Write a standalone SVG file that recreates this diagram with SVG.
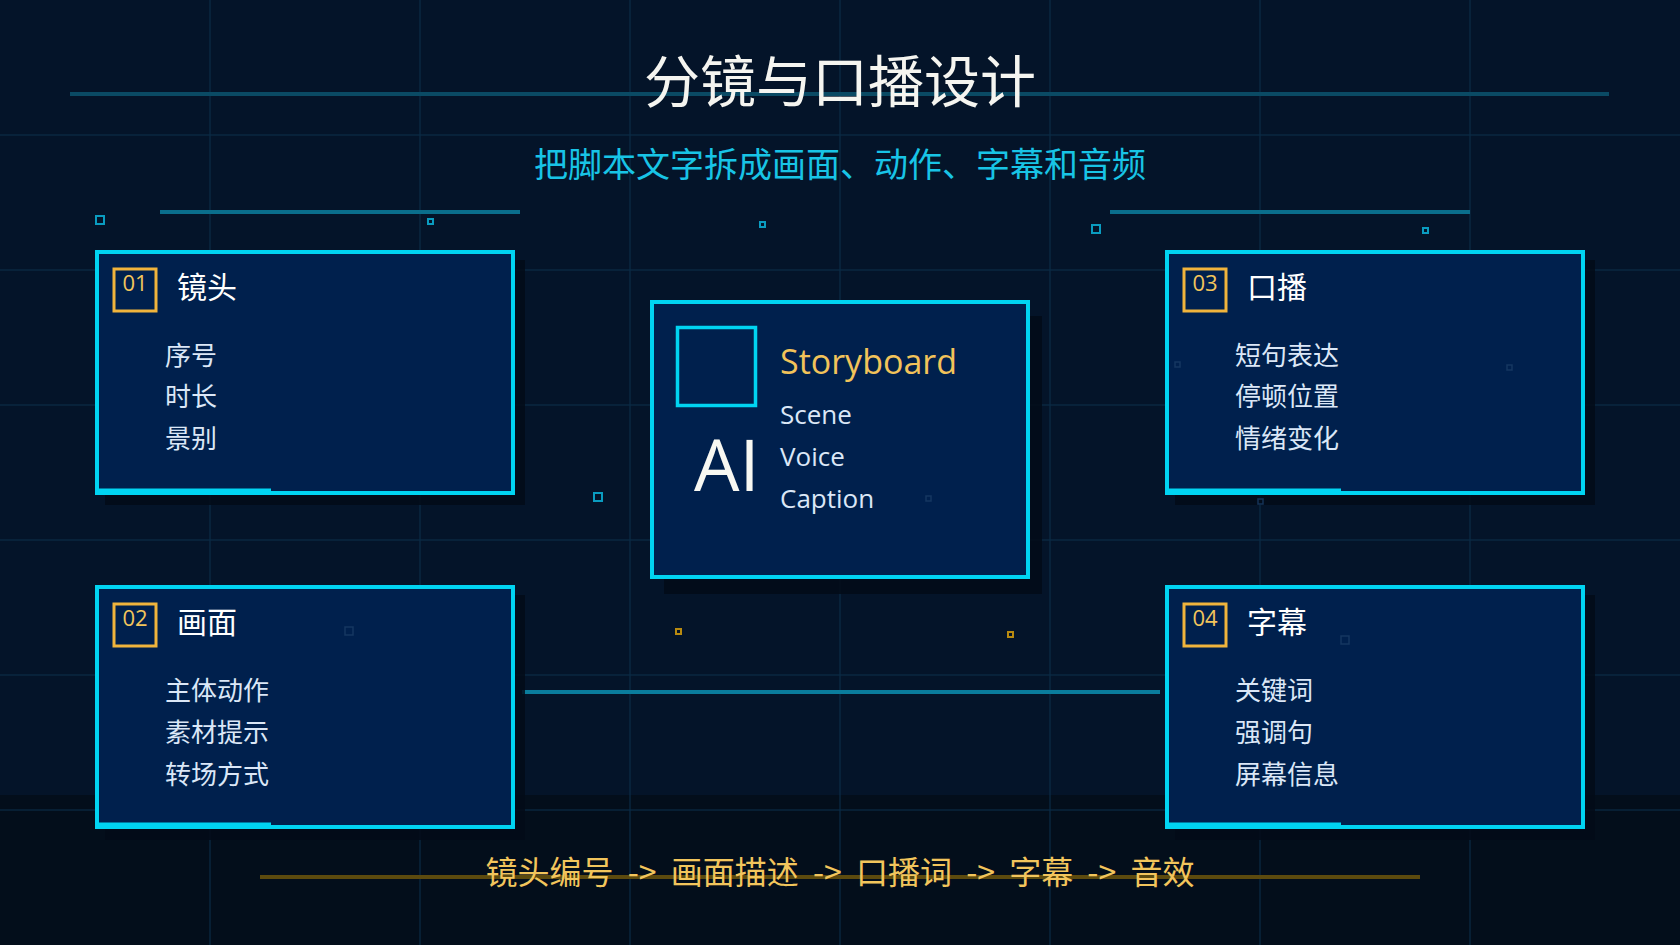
<svg xmlns="http://www.w3.org/2000/svg" width="1680" height="945" viewBox="0 0 1680 945">
<style>
.grid{stroke:#0b2d47;stroke-width:1.5;opacity:0.8}
.shadow{fill:#020b17;opacity:0.85}
.card{fill:#00204d;stroke:#00d4f2;stroke-width:4}
.accent{stroke:#00d4f2;stroke-width:3}
.badge{fill:none;stroke:#f0b43c;stroke-width:3}
.num{font-family:"Open Sans","Noto Sans",sans-serif;font-size:22px;fill:#f2c55c;text-anchor:middle}
.ttl{font-family:"Noto Sans CJK SC","Noto Sans",sans-serif;font-size:30px;fill:#ffffff}
.item{font-family:"Noto Sans CJK SC","Noto Sans",sans-serif;font-size:26px;fill:#dbe7f7}
.en{font-family:"Open Sans","Noto Sans",sans-serif;font-size:26px;fill:#dbe7f7}
.dot{fill:none;stroke:#0a9cc0;stroke-width:2}
.dotf{fill:none;stroke:#1a3d66;stroke-width:1.5;opacity:0.8}
.doto{fill:none;stroke:#b88a10;stroke-width:2}
</style>
<rect x="0" y="0" width="1680" height="945" fill="#041429"/>
<rect x="0" y="795" width="1680" height="150" fill="#030e1b"/>
<g id="grid">
<line class="grid" x1="210" y1="0" x2="210" y2="945"/>
<line class="grid" x1="420" y1="0" x2="420" y2="945"/>
<line class="grid" x1="630" y1="0" x2="630" y2="945"/>
<line class="grid" x1="840" y1="0" x2="840" y2="945"/>
<line class="grid" x1="1050" y1="0" x2="1050" y2="945"/>
<line class="grid" x1="1260" y1="0" x2="1260" y2="945"/>
<line class="grid" x1="1470" y1="0" x2="1470" y2="945"/>
<line class="grid" x1="0" y1="135" x2="1680" y2="135"/>
<line class="grid" x1="0" y1="270" x2="1680" y2="270"/>
<line class="grid" x1="0" y1="405" x2="1680" y2="405"/>
<line class="grid" x1="0" y1="540" x2="1680" y2="540"/>
<line class="grid" x1="0" y1="675" x2="1680" y2="675"/>
<line class="grid" x1="0" y1="810" x2="1680" y2="810"/>
</g>
<g id="decor">
<line x1="70" y1="94" x2="1609" y2="94" stroke="#0a4a64" stroke-width="4"/>
<line x1="160" y1="212" x2="520" y2="212" stroke="#0a6e8c" stroke-width="4"/>
<line x1="1110" y1="212" x2="1470" y2="212" stroke="#0a6e8c" stroke-width="4"/>
<rect class="dot" x="96" y="216" width="8" height="8"/>
<rect class="dot" x="428" y="219" width="5" height="5"/>
<rect class="dot" x="760" y="222" width="5" height="5"/>
<rect class="dot" x="1092" y="225" width="8" height="8"/>
<rect class="dot" x="1423" y="228" width="5" height="5"/>
<rect class="dot" x="594" y="493" width="8" height="8"/>
<rect class="doto" x="676" y="629" width="5" height="5"/>
<rect class="doto" x="1008" y="632" width="5" height="5"/>
<line x1="260" y1="877" x2="1420" y2="877" stroke="#5c4a0e" stroke-width="4"/>
</g>
<g id="title">
<text x="840" y="102" font-family="'Noto Sans CJK SC','Noto Sans',sans-serif" font-size="56" fill="#f5f5f0" text-anchor="middle">分镜与口播设计</text>
<text x="840" y="177" font-family="'Noto Sans CJK SC','Noto Sans',sans-serif" font-size="34" fill="#18c4e6" text-anchor="middle">把脚本文字拆成画面、动作、字幕和音频</text>
</g>
<g id="connectors">
<line x1="522" y1="692" x2="1160" y2="692" stroke="#0a7c9c" stroke-width="4"/>
</g>
<g id="box01">
<rect class="shadow" x="105" y="260" width="420" height="245"/>
<rect class="card" x="97" y="252" width="416" height="241"/>
<line class="accent" x1="97" y1="490" x2="271" y2="490"/>
<rect class="badge" x="114" y="269" width="42" height="42"/>
<text class="num" x="135" y="291">01</text>
<text class="ttl" x="177" y="298">镜头</text>
<text class="item" x="165" y="365">序号</text>
<text class="item" x="165" y="406">时长</text>
<text class="item" x="165" y="448">景别</text>
</g>
<g id="box02">
<rect class="shadow" x="105" y="595" width="420" height="245"/>
<rect class="card" x="97" y="587" width="416" height="240"/>
<line class="accent" x1="97" y1="824" x2="271" y2="824"/>
<rect class="badge" x="114" y="604" width="42" height="42"/>
<text class="num" x="135" y="626">02</text>
<text class="ttl" x="177" y="633">画面</text>
<text class="item" x="165" y="700">主体动作</text>
<text class="item" x="165" y="742">素材提示</text>
<text class="item" x="165" y="784">转场方式</text>
</g>
<g id="box03">
<rect class="shadow" x="1175" y="260" width="420" height="245"/>
<rect class="card" x="1167" y="252" width="416" height="241"/>
<line class="accent" x1="1167" y1="490" x2="1341" y2="490"/>
<rect class="badge" x="1184" y="269" width="42" height="42"/>
<text class="num" x="1205" y="291">03</text>
<text class="ttl" x="1247" y="298">口播</text>
<text class="item" x="1235" y="365">短句表达</text>
<text class="item" x="1235" y="406">停顿位置</text>
<text class="item" x="1235" y="448">情绪变化</text>
</g>
<g id="box04">
<rect class="shadow" x="1175" y="595" width="420" height="245"/>
<rect class="card" x="1167" y="587" width="416" height="240"/>
<line class="accent" x1="1167" y1="824" x2="1341" y2="824"/>
<rect class="badge" x="1184" y="604" width="42" height="42"/>
<text class="num" x="1205" y="626">04</text>
<text class="ttl" x="1247" y="633">字幕</text>
<text class="item" x="1235" y="700">关键词</text>
<text class="item" x="1235" y="742">强调句</text>
<text class="item" x="1235" y="784">屏幕信息</text>
</g>
<g id="center">
<rect class="shadow" x="664" y="316" width="378" height="278"/>
<rect class="card" x="652" y="302" width="376" height="275" stroke-width="4.5"/>
<rect x="677.5" y="327.5" width="78" height="78" fill="none" stroke="#00d4f2" stroke-width="3.5"/>
<text x="694" y="491" font-family="'Open Sans','Noto Sans',sans-serif" font-size="72" fill="#f8f8f2">AI</text>
<text x="780" y="374" font-family="'Open Sans','Noto Sans',sans-serif" font-size="34" fill="#f2c35a">Storyboard</text>
<text class="en" x="780" y="424">Scene</text>
<text class="en" x="780" y="466">Voice</text>
<text class="en" x="780" y="508">Caption</text>
</g>
<g id="faint">
<rect class="dotf" x="345" y="627" width="8" height="8"/>
<rect class="dotf" x="1175" y="362" width="5" height="5"/>
<rect class="dotf" x="1507" y="365" width="5" height="5"/>
<rect class="dotf" x="1258" y="499" width="5" height="5"/>
<rect class="dotf" x="1341" y="636" width="8" height="8"/>
<rect class="dotf" x="926" y="496" width="5" height="5"/>
</g>
<g id="flow">
<text x="840" y="884" font-family="'Noto Sans CJK SC','Noto Sans',sans-serif" font-size="32" fill="#f2c55c" text-anchor="middle" word-spacing="7">镜头编号 -&gt; 画面描述 -&gt; 口播词 -&gt; 字幕 -&gt; 音效</text>
</g>
</svg>
